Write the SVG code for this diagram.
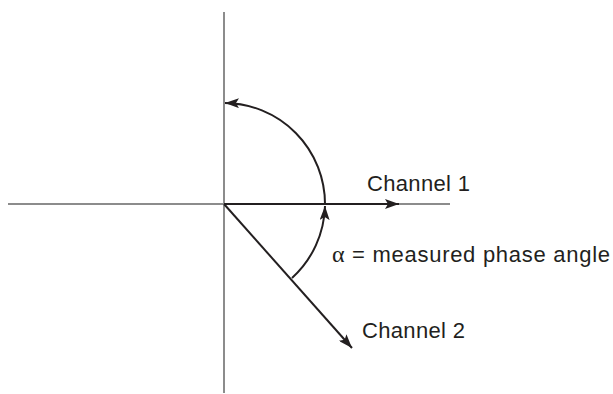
<svg xmlns="http://www.w3.org/2000/svg" width="613" height="394" viewBox="0 0 613 394">
<defs>
<style>
.axis{stroke:#8c8c8c;stroke-width:2;fill:none}
.vec{stroke:#231f20;stroke-width:2;fill:none}
.lbl{font-family:"Liberation Sans",Arial,sans-serif;font-size:22px;fill:#231f20}
</style>
<marker id="ah" viewBox="0 0 14 10" refX="14" refY="5" markerWidth="14" markerHeight="10" markerUnits="userSpaceOnUse" orient="auto">
<path d="M0,0 L14,5 L0,10 L3,5 Z" fill="#231f20"/>
</marker>
</defs>
<rect width="613" height="394" fill="#ffffff"/>
<g id="axes">
<line class="axis" x1="224" y1="12" x2="224" y2="393"/>
<line class="axis" x1="8" y1="204" x2="450" y2="204"/>
</g>
<g id="connectors">
<line id="ch1" class="vec" x1="224" y1="204" x2="399" y2="204" marker-end="url(#ah)"/>
<line id="ch2" class="vec" x1="224" y1="204" x2="352" y2="348" marker-end="url(#ah)"/>
<path id="arc-upper" class="vec" d="M325,204 A101,101 0 0 0 225,103" marker-end="url(#ah)"/>
<path id="arc-alpha" class="vec" d="M292,278 A101,101 0 0 0 325,206" marker-end="url(#ah)"/>
</g>
<g id="label-ch1"><text class="lbl" x="367" y="191" textLength="103" lengthAdjust="spacing">Channel 1</text></g>
<g id="label-ch2"><text class="lbl" x="362" y="338" textLength="103" lengthAdjust="spacing">Channel 2</text></g>
<g id="label-alpha"><text class="lbl" x="332" y="262" textLength="278" lengthAdjust="spacing"><tspan style="font-family:'Liberation Serif',serif;font-size:24px">α</tspan> = measured phase angle</text></g>
</svg>
